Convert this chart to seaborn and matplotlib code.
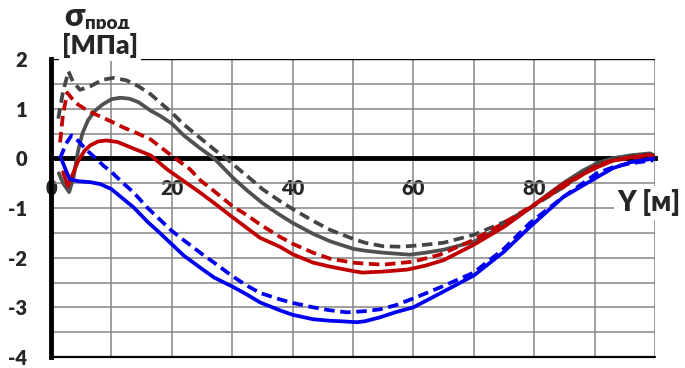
import numpy as np
import pandas as pd
import matplotlib
matplotlib.use("Agg")
import matplotlib.pyplot as plt
import seaborn as sns
from matplotlib.ticker import MultipleLocator

# ---------------- data ----------------
gs_x = [1.3, 2.0, 3.0, 3.7, 4.5, 5.2, 6.1, 7.2, 8.5, 10, 11.5, 13, 14.5, 16.5, 18, 20, 22, 24.5, 27, 28.6,
        30.2, 32.4, 35, 37.9, 40, 43.4, 46.2, 50, 52, 55, 59.4, 62, 65, 70, 75, 79.3, 82, 84.8, 88, 90.4,
        93, 95.9, 99.2, 100]
gs_y = [-0.3, -0.5, -0.68, -0.4, 0.16, 0.5, 0.76, 0.95, 1.08, 1.19, 1.22, 1.2, 1.13, 0.96, 0.86, 0.7, 0.46,
        0.22, 0.0, -0.2, -0.4, -0.64, -0.9, -1.14, -1.3, -1.52, -1.67, -1.82, -1.86, -1.9, -1.94, -1.9,
        -1.84, -1.68, -1.35, -1.0, -0.75, -0.5, -0.25, -0.1, 0.0, 0.06, 0.1, 0.05]

gd_x = [1.2, 2.0, 2.9, 3.6, 4.8, 6.5, 8.5, 10.3, 12.5, 14.5, 16.5, 18, 20, 22, 24.8, 27, 29.5, 31.5, 33.5,
        35, 37.9, 40, 43.4, 46.2, 50, 52, 55, 58, 60, 62, 65, 70, 75.5, 80, 84.8, 88, 90.4, 93, 95.9,
        99.2, 100]
gd_y = [0.8, 1.35, 1.75, 1.55, 1.38, 1.45, 1.58, 1.62, 1.57, 1.45, 1.29, 1.13, 0.92, 0.68, 0.4, 0.18,
        -0.05, -0.26, -0.46, -0.62, -0.86, -1.02, -1.26, -1.44, -1.62, -1.7, -1.77, -1.78, -1.76, -1.74,
        -1.7, -1.54, -1.26, -0.95, -0.58, -0.3, -0.1, 0.0, 0.04, 0.08, 0.03]

rs_x = [2.0, 2.8, 3.5, 4.5, 5.6, 6.5, 7.8, 9.2, 11, 13.6, 16.5, 19.2, 22, 24.7, 27, 30, 32.4, 34.6, 37.9,
        40, 43.4, 46.2, 50, 51.5, 55, 59, 62, 65, 70, 75, 79.3, 84.8, 90.4, 93, 95.9, 99.2, 100]
rs_y = [-0.28, -0.56, -0.35, -0.05, 0.16, 0.26, 0.34, 0.36, 0.33, 0.2, 0.06, -0.22, -0.46, -0.69, -0.9,
        -1.18, -1.4, -1.6, -1.78, -1.93, -2.1, -2.18, -2.27, -2.3, -2.28, -2.24, -2.16, -2.05, -1.74,
        -1.38, -1.0, -0.52, -0.18, -0.05, 0.02, 0.07, 0.03]

rd_x = [1.5, 2.0, 2.7, 3.5, 4.5, 6.1, 8, 10, 12, 14, 16.5, 18, 20, 23, 24.8, 26.8, 30, 32.4, 34.6, 37.9,
        40, 43.4, 46.2, 50, 52, 55, 60, 64.4, 70, 75, 79.3, 84.8, 90.4, 93, 95.9, 99.2, 100]
rd_y = [0.32, 0.9, 1.32, 1.2, 1.08, 0.96, 0.85, 0.74, 0.62, 0.52, 0.38, 0.24, 0.05, -0.22, -0.45, -0.64,
        -0.96, -1.14, -1.33, -1.58, -1.72, -1.9, -2.02, -2.1, -2.12, -2.14, -2.08, -1.94, -1.64, -1.3,
        -0.98, -0.58, -0.14, -0.04, 0.0, 0.05, 0.02]

bd_x = [1.5, 2.5, 3.4, 4.5, 5.5, 6.5, 7.6, 8.8, 9.8, 11.5, 13.7, 16, 18, 20, 22, 24.7, 27, 30, 32.4, 34.6,
        37.9, 40, 43.4, 46.2, 49, 51.7, 54.5, 57, 60, 64.4, 70, 75, 79.3, 84.8, 90.4, 93, 95.9, 99.7]
bd_y = [0.0, 0.3, 0.46, 0.35, 0.22, 0.1, -0.02, -0.16, -0.25, -0.45, -0.69, -1.0, -1.23, -1.46, -1.65,
        -1.9, -2.1, -2.37, -2.56, -2.71, -2.84, -2.91, -3.0, -3.06, -3.1, -3.08, -3.04, -2.96, -2.82,
        -2.6, -2.3, -1.82, -1.3, -0.78, -0.3, -0.18, -0.1, -0.04]

bs_x = [1.8, 2.5, 3.1, 4.5, 6.5, 8.2, 10, 12, 13.7, 16, 18, 20, 22, 24.7, 27, 30, 32.4, 34.6, 37.9, 40,
        43.4, 46.2, 48, 50.6, 52, 54.5, 57, 60, 64.4, 70, 75, 79.3, 84.8, 90.4, 93, 95.9, 100]
bs_y = [-0.04, -0.25, -0.42, -0.46, -0.48, -0.52, -0.62, -0.82, -0.99, -1.28, -1.5, -1.73, -1.96, -2.2,
        -2.4, -2.58, -2.74, -2.9, -3.06, -3.15, -3.24, -3.27, -3.28, -3.3, -3.28, -3.2, -3.1, -3.0, -2.72,
        -2.36, -1.88, -1.38, -0.78, -0.38, -0.2, -0.08, 0.0]

x_tick_values = [0, 20, 40, 60, 80, 100]
x_tick_labels = ["0", "20", "40", "60", "80", ""]
y_tick_values = [-4, -3, -2, -1, 0, 1, 2]
y_tick_labels = ["-4", "-3", "-2", "-1", "0", "1", "2"]

series = [
    ("gs", gs_x, gs_y, "#505050", False),
    ("gd", gd_x, gd_y, "#454545", True),
    ("rs", rs_x, rs_y, "#C00000", False),
    ("rd", rd_x, rd_y, "#C00000", True),
    ("bs", bs_x, bs_y, "#0000F0", False),
    ("bd", bd_x, bd_y, "#0000F0", True),
]

# ---------------- style ----------------
sns.set_style("white")
FONT = ["Lato", "Open Sans", "DejaVu Sans"]
plt.rcParams["font.family"] = FONT
plt.rcParams["font.weight"] = "heavy"
W = "heavy"

fig = plt.figure(figsize=(6.85, 3.68), dpi=100)
ax = fig.add_axes([51 / 685, 1 - 357 / 368, (655 - 51) / 685, (357 - 59) / 368])

for name, xs, ys, col, dashed in series:
    df = pd.DataFrame({"x": xs, "y": ys})
    line_ax = sns.lineplot(data=df, x="x", y="y", ax=ax, color=col, lw=2.7,
                           sort=False, estimator=None, zorder=5)
    if dashed:
        line_ax.lines[-1].set_dashes((2.8, 1.5))

ax.set_xlim(0, 100)
ax.set_ylim(-4, 2)
ax.set_xlabel("")
ax.set_ylabel("")

# grid
ax.set_xticks(x_tick_values)
ax.set_xticklabels(x_tick_labels)
ax.xaxis.set_minor_locator(MultipleLocator(10))
ax.set_yticks(y_tick_values)
ax.set_yticklabels(y_tick_labels)
ax.yaxis.set_minor_locator(MultipleLocator(0.5))
ax.grid(True, which="both", color="#858585", lw=1.1, zorder=0)
ax.set_axisbelow(True)

# spines
for s in ["top", "right"]:
    ax.spines[s].set_visible(False)
ax.spines["left"].set_linewidth(3.5)
ax.spines["left"].set_color("black")
ax.spines["bottom"].set_position(("data", 0))
ax.spines["bottom"].set_linewidth(3.5)
ax.spines["bottom"].set_color("black")
ax.spines["bottom"].set_zorder(4)
ax.axhline(2, color="black", lw=1.0, zorder=1)
ax.axhline(-4, color="black", lw=1.6, zorder=1, clip_on=False)

ax.tick_params(axis="y", which="major", direction="out", length=7, width=2.5, color="black",
               labelsize=14.5, pad=10)
ax.tick_params(axis="x", which="major", direction="in", length=7, width=2.5, color="black",
               labelsize=14.5, pad=15)
ax.tick_params(which="minor", length=0)
for lab in ax.get_xticklabels() + ax.get_yticklabels():
    lab.set_fontweight(W)

# axis titles
fig.text(74 / 685, 1 - 16 / 368, "σ", fontsize=23, fontweight=W, ha="center", va="center",
         family=FONT)
fig.text(85 / 685, 1 - 29 / 368, "прод", fontsize=13.5, fontweight=W, ha="left", va="baseline",
         family=FONT)
fig.text(100 / 685, 1 - 45 / 368, "[МПа]", fontsize=19, fontweight=W, ha="center", va="center",
         family=FONT, bbox=dict(facecolor="white", edgecolor="none", pad=2.5))
fig.text(649 / 685, 1 - 203 / 368, "Y [м]", fontsize=20, fontweight=W, ha="center", va="center",
         family=FONT, bbox=dict(facecolor="white", edgecolor="none", pad=2.5), zorder=10)

fig.savefig("out.png", dpi=100)
